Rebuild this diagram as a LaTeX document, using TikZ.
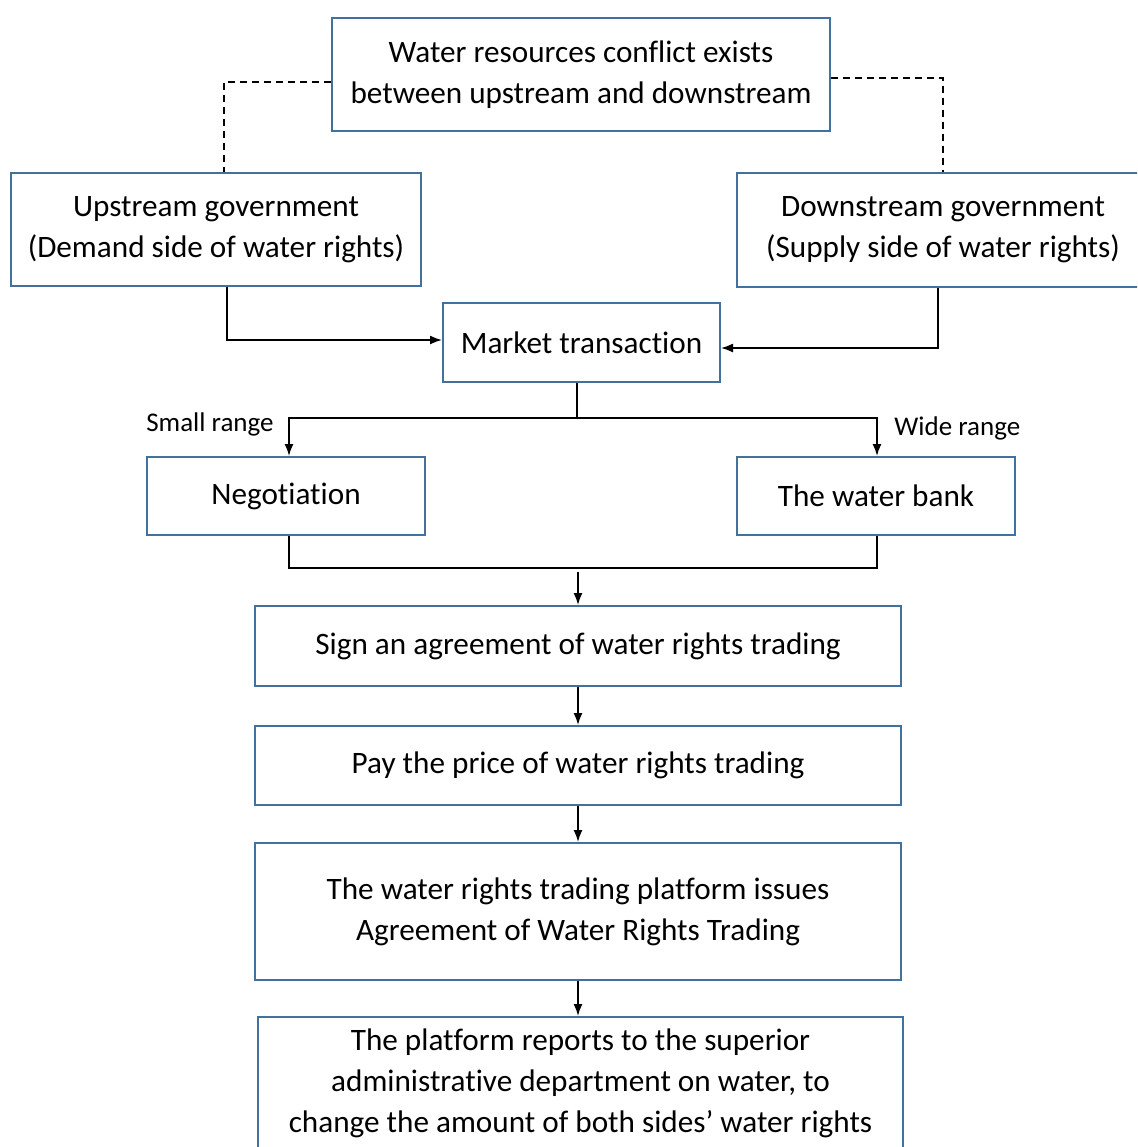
\documentclass[tikz,border=0pt]{standalone}
\usepackage{fontspec}
\setmainfont{Carlito}[Ligatures=NoCommon]
\usetikzlibrary{arrows,arrows.meta}
\definecolor{boxblue}{RGB}{65,113,156}

\begin{document}
\begin{tikzpicture}[x=0.5pt,y=-0.5pt,
  stepbox/.style={draw=boxblue,line width=1pt,align=center,inner sep=0pt,
    font=\fontsize{15.6}{20.5}\selectfont},
  link/.style={line width=0.8pt,-{Latex[length=6pt,width=4.5pt]}},
  tag/.style={font=\fontsize{13.5}{16}\selectfont,inner sep=0pt}]

\path[use as bounding box,clip] (0,0) rectangle (1137,1147);

\node[stepbox,minimum width=249pt,minimum height=56.5pt] (conflict) at (581,74.5)
  {Water resources conflict exists\\between upstream and downstream};
\node[stepbox,minimum width=205pt,minimum height=56.5pt] (upstream) at (216,229.5)
  {Upstream government\\(Demand side of water rights)};
\node[stepbox,minimum width=206pt,minimum height=57pt] (downstream) at (943,230)
  {Downstream government\\(Supply side of water rights)};
\node[stepbox,minimum width=138.5pt,minimum height=39.5pt] (market) at (581.5,342.5)
  {Market transaction};
\node[stepbox,minimum width=139pt,minimum height=39pt] (negotiation) at (286,496)
  {Negotiation};
\node[stepbox,minimum width=139pt,minimum height=39pt] (bank) at (876,496)
  {The water bank};
\node[stepbox,minimum width=323pt,minimum height=40pt] (sign) at (578,646)
  {Sign an agreement of water rights trading};
\node[stepbox,minimum width=323pt,minimum height=39.5pt] (pay) at (578,765.5)
  {Pay the price of water rights trading};
\node[stepbox,minimum width=323pt,minimum height=68.5pt] (platform) at (578,911.5)
  {The water rights trading platform issues\\Agreement of Water Rights Trading};
\node[stepbox,minimum width=322.5pt,minimum height=66.5pt] (report) at (580.5,1083.5)
  {The platform reports to the superior\\administrative department on water, to\\change the amount of both sides' water rights};

\draw[dash pattern=on 3.5pt off 2.5pt,line width=0.8pt] ([yshift=-3.75pt]conflict.west) -| ([xshift=4pt]upstream.north);
\draw[dash pattern=on 3.5pt off 2.5pt,line width=0.8pt] ([yshift=-1.75pt]conflict.east) -| (downstream.north);

\draw[link] ([xshift=5.5pt]upstream.south) |- ([yshift=1.25pt]market.west);
\draw[link] ([xshift=-2.5pt]downstream.south) |- ([yshift=-2.75pt]market.east);

\coordinate (fork) at (577,418);
\draw[line width=0.8pt] (market.south -| fork) -- (fork);
\draw[link] (fork) -| ([xshift=1.5pt]negotiation.north);
\draw[link] (fork) -| ([xshift=0.5pt]bank.north);
\node[tag,anchor=east] (small) at (274,424) {Small range};
\node[tag,anchor=west] (wide) at (894,428) {Wide range};

\coordinate (join) at (578,568);
\draw[line width=0.8pt] ([xshift=1.5pt]negotiation.south) |- (join) -| ([xshift=0.5pt]bank.south);
\draw[link] ([yshift=-2pt]join) -- (sign.north);

\foreach \a/\b in {sign/pay,pay/platform,platform/report}
{
\draw[link] (\a.south) -- (\a.south |- \b.north);
}
\end{tikzpicture}
\end{document}
